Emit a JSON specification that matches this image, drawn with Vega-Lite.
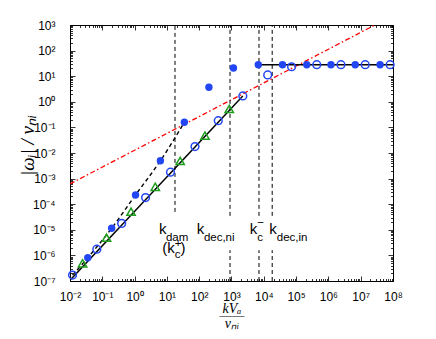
{
  "$schema": "https://vega.github.io/schema/vega-lite/v6.json",
  "width": 323,
  "height": 256,
  "autosize": {"type": "none"},
  "padding": {"left": 70, "top": 25, "right": 43, "bottom": 58},
  "background": "white",
  "config": {
    "view": {"stroke": "black", "strokeWidth": 1},
    "axis": {
      "grid": false,
      "domainColor": "black",
      "domainWidth": 1,
      "tickColor": "black",
      "tickWidth": 0.8,
      "labelColor": "black",
      "titleColor": "black",
      "labelFont": "Liberation Sans",
      "labelFontSize": 12,
      "tickCount": 100,
      "labelOverlap": false,
      "labelFlush": false
    }
  },
  "datasets": {
    "filled": [
      {"x": 0.0355, "y": 8.1e-7}, {"x": 0.195, "y": 1.15e-5}, {"x": 1.07, "y": 2.3e-4},
      {"x": 6.3, "y": 5.0e-3}, {"x": 34.7, "y": 0.158}, {"x": 200, "y": 3.7},
      {"x": 1150, "y": 21}, {"x": 6760, "y": 28.2}, {"x": 38000, "y": 28.2},
      {"x": 214000, "y": 28.2}, {"x": 1200000, "y": 28.2}, {"x": 6760000, "y": 28.2},
      {"x": 39800000, "y": 28.2}
    ],
    "open": [
      {"x": 0.012, "y": 1.7e-7}, {"x": 0.0676, "y": 1.74e-6}, {"x": 0.398, "y": 1.78e-5},
      {"x": 2.19, "y": 1.82e-4}, {"x": 12.9, "y": 1.78e-3}, {"x": 74.1, "y": 0.0178},
      {"x": 389, "y": 0.182}, {"x": 2240, "y": 1.7}, {"x": 13200, "y": 11.2},
      {"x": 72400, "y": 23.4}, {"x": 436000, "y": 28.2}, {"x": 2450000, "y": 28.2},
      {"x": 13800000, "y": 28.2}, {"x": 81300000, "y": 28.2}
    ],
    "tri": [
      {"x": 0.0245, "y": 4.9e-7}, {"x": 0.135, "y": 4.9e-6}, {"x": 0.776, "y": 5.1e-5},
      {"x": 4.37, "y": 4.8e-4}, {"x": 25.7, "y": 4.9e-3}, {"x": 151, "y": 0.0479},
      {"x": 851, "y": 0.525}
    ],
    "solid": [
      {"seg": "a", "x": 0.0105, "y": 1.15e-7}, {"seg": "a", "x": 2240, "y": 1.7},
      {"seg": "b", "x": 6760, "y": 28.2}, {"seg": "b", "x": 100000000, "y": 28.2}
    ],
    "dashed": [
      {"x": 0.012, "y": 1.7e-7}, {"x": 0.0355, "y": 8.1e-7}, {"x": 0.195, "y": 1.15e-5},
      {"x": 1.07, "y": 2.3e-4}, {"x": 6.3, "y": 5.0e-3}, {"x": 34.7, "y": 0.158}
    ],
    "red": [
      {"x": 0.01, "y": 6.2e-4}, {"x": 27500000, "y": 1000}
    ],
    "vlines": [
      {"x": 17.8, "y0": 5e-5, "y1": 1000},
      {"x": 900, "y0": 3.5e-5, "y1": 1000}, {"x": 900, "y0": 1e-7, "y1": 1.6e-6},
      {"x": 7100, "y0": 3.5e-5, "y1": 1000}, {"x": 7100, "y0": 1e-7, "y1": 1.6e-6},
      {"x": 18200, "y0": 3.5e-5, "y1": 1000}, {"x": 18200, "y0": 1e-7, "y1": 1.6e-6}
    ],
    "labmain": [
      {"x": 5.66, "y": 7.16e-6, "t": "k"}, {"x": 84.7, "y": 7.16e-6, "t": "k"},
      {"x": 3690, "y": 7.16e-6, "t": "k"}, {"x": 14800, "y": 7.16e-6, "t": "k"},
      {"x": 7.16, "y": 1.28e-6, "t": "(k"}, {"x": 26.4, "y": 1.28e-6, "t": ")"}
    ],
    "labsub": [
      {"x": 9.3, "y": 3.65e-6, "t": "dam"}, {"x": 139.6, "y": 3.65e-6, "t": "dec,ni"},
      {"x": 6310, "y": 3.65e-6, "t": "c"}, {"x": 25300, "y": 3.65e-6, "t": "dec,in"},
      {"x": 17.4, "y": 7.9e-7, "t": "c"}, {"x": 17.4, "y": 2.04e-6, "t": "+"},
      {"x": 6310, "y": 1.41e-5, "t": "−"}
    ]
  },
  "layer": [
    {
      "data": {"name": "red"},
      "mark": {"type": "line", "color": "#ff0000", "strokeWidth": 1.3, "strokeDash": [5, 2.5, 1.5, 2.5], "clip": true},
      "encoding": {
        "x": {
          "field": "x", "type": "quantitative",
          "scale": {"type": "log", "domain": [0.01, 100000000], "nice": false},
          "axis": {
            "orient": "bottom",
            "title": ["kVₐ", "——", "νₙᵢ"],
            "titleFont": "Liberation Serif",
            "titleFontStyle": "italic",
            "titleFontWeight": "normal",
            "titleFontSize": 14,
            "titleLineHeight": 7.5,
            "titleY": 20,
            "labelPadding": 15,
            "tickSize": {"condition": {"test": "abs(log(datum.value)/LN10 - round(log(datum.value)/LN10)) < 0.01", "value": -5}, "value": -2.5},
            "labelExpr": "abs(log(datum.value)/LN10 - round(log(datum.value)/LN10)) > 0.01 ? '' : '10' + (round(log(datum.value)/LN10) < 0 ? '⁻' : '') + substring('⁰¹²³⁴⁵⁶⁷⁸⁹', abs(round(log(datum.value)/LN10)), abs(round(log(datum.value)/LN10)) + 1)"
          }
        },
        "y": {
          "field": "y", "type": "quantitative",
          "scale": {"type": "log", "domain": [1e-7, 1000], "nice": false},
          "axis": {
            "orient": "left",
            "title": "|ωᵢ| / νₙᵢ",
            "titleFont": "Liberation Serif",
            "titleFontStyle": "italic",
            "titleFontWeight": "normal",
            "titleFontSize": 19,
            "titleX": -33,
            "titleY": 120,
            "labelPadding": 20,
            "tickSize": {"condition": {"test": "abs(log(datum.value)/LN10 - round(log(datum.value)/LN10)) < 0.01", "value": -5}, "value": -2.5},
            "labelExpr": "abs(log(datum.value)/LN10 - round(log(datum.value)/LN10)) > 0.01 ? '' : '10' + (round(log(datum.value)/LN10) < 0 ? '⁻' : '') + substring('⁰¹²³⁴⁵⁶⁷⁸⁹', abs(round(log(datum.value)/LN10)), abs(round(log(datum.value)/LN10)) + 1)"
          }
        }
      }
    },
    {
      "data": {"name": "vlines"},
      "mark": {"type": "rule", "color": "black", "strokeWidth": 1, "strokeDash": [4, 3]},
      "encoding": {
        "x": {"field": "x", "type": "quantitative", "axis": {"orient": "top", "labels": false, "title": null, "domain": false,
          "tickSize": {"condition": {"test": "abs(log(datum.value)/LN10 - round(log(datum.value)/LN10)) < 0.01", "value": -5}, "value": -2.5}}},
        "y": {"field": "y0", "type": "quantitative", "axis": {"orient": "right", "labels": false, "title": null, "domain": false,
          "tickSize": {"condition": {"test": "abs(log(datum.value)/LN10 - round(log(datum.value)/LN10)) < 0.01", "value": -5}, "value": -2.5}}},
        "y2": {"field": "y1"}
      }
    },
    {
      "data": {"name": "dashed"},
      "mark": {"type": "line", "color": "black", "strokeWidth": 1.4, "strokeDash": [4, 3], "interpolate": "monotone"},
      "encoding": {
        "x": {"field": "x", "type": "quantitative", "axis": null},
        "y": {"field": "y", "type": "quantitative", "axis": null}
      }
    },
    {
      "data": {"name": "solid"},
      "mark": {"type": "line", "color": "black", "strokeWidth": 1.5},
      "encoding": {
        "x": {"field": "x", "type": "quantitative", "axis": null},
        "y": {"field": "y", "type": "quantitative", "axis": null},
        "detail": {"field": "seg"}
      }
    },
    {
      "data": {"name": "tri"},
      "mark": {"type": "point", "shape": "triangle-up", "filled": false, "color": "#1e9e1e", "strokeWidth": 1.5, "size": 70, "opacity": 1},
      "encoding": {
        "x": {"field": "x", "type": "quantitative", "axis": null},
        "y": {"field": "y", "type": "quantitative", "axis": null}
      }
    },
    {
      "data": {"name": "open"},
      "mark": {"type": "point", "shape": "circle", "filled": false, "color": "#2346f5", "strokeWidth": 1.5, "size": 60, "opacity": 1},
      "encoding": {
        "x": {"field": "x", "type": "quantitative", "axis": null},
        "y": {"field": "y", "type": "quantitative", "axis": null}
      }
    },
    {
      "data": {"name": "filled"},
      "mark": {"type": "circle", "color": "#2346f5", "size": 55, "opacity": 1},
      "encoding": {
        "x": {"field": "x", "type": "quantitative", "axis": null},
        "y": {"field": "y", "type": "quantitative", "axis": null}
      }
    },
    {
      "data": {"name": "labmain"},
      "mark": {"type": "text", "align": "left", "baseline": "alphabetic", "font": "Liberation Sans", "fontSize": 15, "color": "black"},
      "encoding": {
        "x": {"field": "x", "type": "quantitative", "axis": null},
        "y": {"field": "y", "type": "quantitative", "axis": null},
        "text": {"field": "t"}
      }
    },
    {
      "data": {"name": "labsub"},
      "mark": {"type": "text", "align": "left", "baseline": "alphabetic", "font": "Liberation Sans", "fontSize": 11.5, "color": "black"},
      "encoding": {
        "x": {"field": "x", "type": "quantitative", "axis": null},
        "y": {"field": "y", "type": "quantitative", "axis": null},
        "text": {"field": "t"}
      }
    }
  ]
}
